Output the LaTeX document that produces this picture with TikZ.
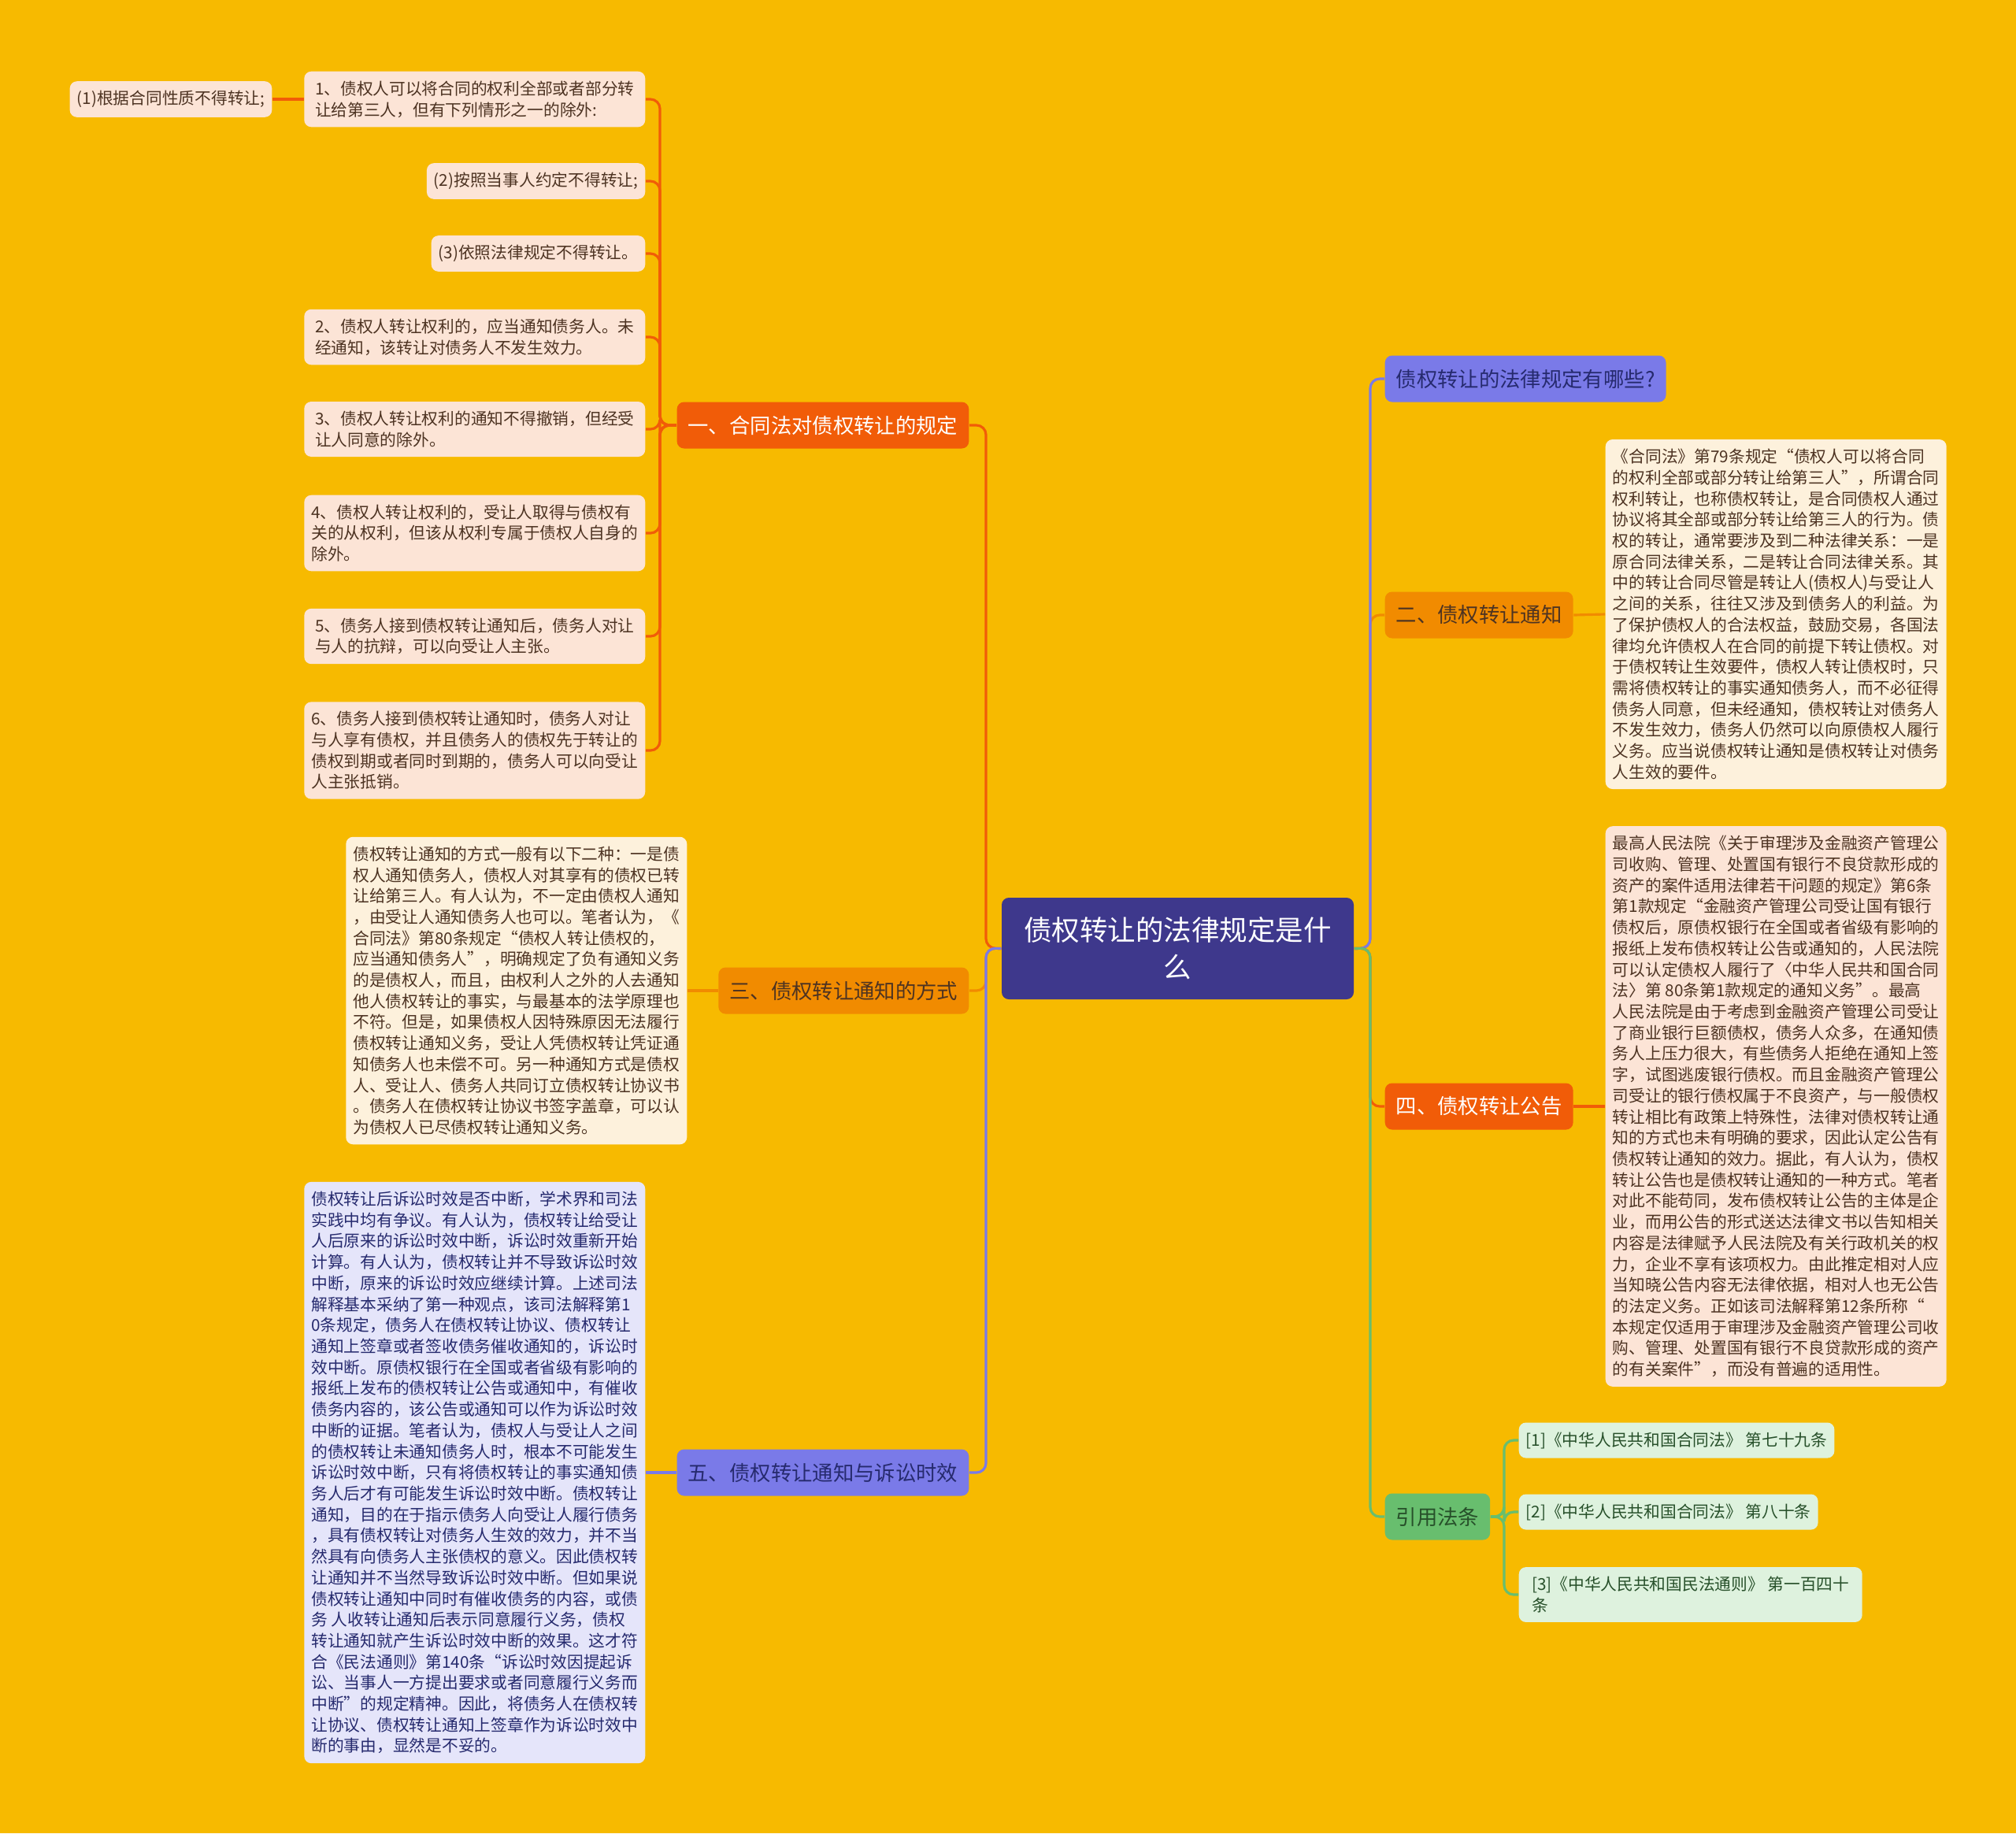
\documentclass[tikz,border=0pt]{standalone}
\usepackage{fontspec}
\setmainfont{Noto Sans CJK SC}
\definecolor{bgyellow}{RGB}{247,186,0}
\definecolor{navy}{RGB}{62,56,140}
\definecolor{redorange}{RGB}{241,92,8}
\definecolor{orange2}{RGB}{241,139,0}
\definecolor{lilac}{RGB}{122,122,232}
\definecolor{green2}{RGB}{104,190,110}
\definecolor{peach}{RGB}{252,228,214}
\definecolor{cream}{RGB}{253,241,220}
\definecolor{lavender}{RGB}{229,229,250}
\definecolor{mint}{RGB}{222,242,222}
\definecolor{browntx}{RGB}{77,51,34}
\definecolor{navytx}{RGB}{38,42,110}
\definecolor{greentx}{RGB}{39,80,42}
\begin{document}
\begin{tikzpicture}[
  box/.style={rounded corners=0.09cm, inner ysep=0.12cm},
  leaf/.style={box, inner xsep=0.09cm, align=left, font=\fontsize{5.9}{7.6}\selectfont},
  note/.style={leaf, minimum width=4.33cm},
  branch/.style={box, inner xsep=0.14cm, minimum height=0.59cm, font=\fontsize{7.5}{9}\selectfont},
  redbox/.style={fill=peach, text=browntx},
  orbox/.style={fill=cream, text=browntx},
  pubox/.style={fill=lavender, text=navytx},
  grbox/.style={fill=mint, text=greentx},
  link/.style={line width=0.9pt, rounded corners=0.12cm},
]
\fill[bgyellow] (0,0) rectangle (25.60,-23.28);

% centre
\node[box, fill=navy, text=white, minimum width=4.47cm, minimum height=1.29cm, align=center,
  font=\fontsize{10.1}{13.4}\selectfont] (ctr) at (14.955,-12.045) {债权转让的法律规定是什\\么};

% left branches
\node[branch, fill=redorange, text=white, anchor=east] (b1) at (12.31,-5.40) {一、合同法对债权转让的规定};
\node[branch, fill=orange2, text=browntx, anchor=east] (b3) at (12.31,-12.58) {三、债权转让通知的方式};
\node[branch, fill=lilac, text=navytx, anchor=east] (b5) at (12.31,-18.70) {五、债权转让通知与诉讼时效};

% right branches
\node[branch, fill=lilac, text=navytx, anchor=west] (r0) at (17.58,-4.81) {债权转让的法律规定有哪些?};
\node[branch, fill=orange2, text=browntx, anchor=west] (r2) at (17.58,-7.81) {二、债权转让通知};
\node[branch, fill=redorange, text=white, anchor=west] (r4) at (17.58,-14.05) {四、债权转让公告};
\node[branch, fill=green2, text=greentx, anchor=west] (r6) at (17.58,-19.26) {引用法条};

% leaves of b1
\node[note, redbox, anchor=east] (l1a) at (8.20,-1.26) {1、债权人可以将合同的权利全部或者部分转\\让给第三人，但有下列情形之一的除外:};
\node[leaf, redbox, anchor=east] (l1b) at (3.46,-1.26) {(1)根据合同性质不得转让;};
\node[leaf, redbox, anchor=east] (l1c) at (8.20,-2.30) {(2)按照当事人约定不得转让;};
\node[leaf, redbox, anchor=east] (l1d) at (8.20,-3.22) {(3)依照法律规定不得转让。};
\node[note, redbox, anchor=east] (l2) at (8.20,-4.28) {2、债权人转让权利的，应当通知债务人。未\\经通知，该转让对债务人不发生效力。};
\node[note, redbox, anchor=east] (l3) at (8.20,-5.45) {3、债权人转让权利的通知不得撤销，但经受\\让人同意的除外。};
\node[note, redbox, anchor=east] (l4) at (8.20,-6.77) {4、债权人转让权利的，受让人取得与债权有\\关的从权利，但该从权利专属于债权人自身的\\除外。};
\node[note, redbox, anchor=east] (l5) at (8.20,-8.08) {5、债务人接到债权转让通知后，债务人对让\\与人的抗辩，可以向受让人主张。};
\node[note, redbox, anchor=east] (l6) at (8.20,-9.53) {6、债务人接到债权转让通知时，债务人对让\\与人享有债权，并且债务人的债权先于转让的\\债权到期或者同时到期的，债务人可以向受让\\人主张抵销。};

% text of b3
\node[note, orbox, anchor=east] (t3) at (8.73,-12.58) {债权转让通知的方式一般有以下二种：一是债\\
权人通知债务人，债权人对其享有的债权已转\\
让给第三人。有人认为，不一定由债权人通知\\
，由受让人通知债务人也可以。笔者认为，《\\
合同法》第80条规定“债权人转让债权的，\\
应当通知债务人”，明确规定了负有通知义务\\
的是债权人，而且，由权利人之外的人去通知\\
他人债权转让的事实，与最基本的法学原理也\\
不符。但是，如果债权人因特殊原因无法履行\\
债权转让通知义务，受让人凭债权转让凭证通\\
知债务人也未偿不可。另一种通知方式是债权\\
人、受让人、债务人共同订立债权转让协议书\\
。债务人在债权转让协议书签字盖章，可以认\\
为债权人已尽债权转让通知义务。};

% text of b5
\node[note, pubox, anchor=east] (t5) at (8.20,-18.70) {债权转让后诉讼时效是否中断，学术界和司法\\
实践中均有争议。有人认为，债权转让给受让\\
人后原来的诉讼时效中断，诉讼时效重新开始\\
计算。有人认为，债权转让并不导致诉讼时效\\
中断，原来的诉讼时效应继续计算。上述司法\\
解释基本采纳了第一种观点，该司法解释第1\\
0条规定，债务人在债权转让协议、债权转让\\
通知上签章或者签收债务催收通知的，诉讼时\\
效中断。原债权银行在全国或者省级有影响的\\
报纸上发布的债权转让公告或通知中，有催收\\
债务内容的，该公告或通知可以作为诉讼时效\\
中断的证据。笔者认为，债权人与受让人之间\\
的债权转让未通知债务人时，根本不可能发生\\
诉讼时效中断，只有将债权转让的事实通知债\\
务人后才有可能发生诉讼时效中断。债权转让\\
通知，目的在于指示债务人向受让人履行债务\\
，具有债权转让对债务人生效的效力，并不当\\
然具有向债务人主张债权的意义。因此债权转\\
让通知并不当然导致诉讼时效中断。但如果说\\
债权转让通知中同时有催收债务的内容，或债\\
务 人收转让通知后表示同意履行义务，债权\\
转让通知就产生诉讼时效中断的效果。这才符\\
合《民法通则》第140条“诉讼时效因提起诉\\
讼、当事人一方提出要求或者同意履行义务而\\
中断”的规定精神。因此，将债务人在债权转\\
让协议、债权转让通知上签章作为诉讼时效中\\
断的事由，显然是不妥的。};

% text of r2
\node[note, orbox, anchor=west] (t2) at (20.38,-7.80) {《合同法》第79条规定“债权人可以将合同\\
的权利全部或部分转让给第三人”，所谓合同\\
权利转让，也称债权转让，是合同债权人通过\\
协议将其全部或部分转让给第三人的行为。债\\
权的转让，通常要涉及到二种法律关系：一是\\
原合同法律关系，二是转让合同法律关系。其\\
中的转让合同尽管是转让人(债权人)与受让人\\
之间的关系，往往又涉及到债务人的利益。为\\
了保护债权人的合法权益，鼓励交易，各国法\\
律均允许债权人在合同的前提下转让债权。对\\
于债权转让生效要件，债权人转让债权时，只\\
需将债权转让的事实通知债务人，而不必征得\\
债务人同意，但未经通知，债权转让对债务人\\
不发生效力，债务人仍然可以向原债权人履行\\
义务。应当说债权转让通知是债权转让对债务\\
人生效的要件。};

% text of r4
\node[note, redbox, anchor=west] (t4) at (20.38,-14.05) {最高人民法院《关于审理涉及金融资产管理公\\
司收购、管理、处置国有银行不良贷款形成的\\
资产的案件适用法律若干问题的规定》第6条\\
第1款规定“金融资产管理公司受让国有银行\\
债权后，原债权银行在全国或者省级有影响的\\
报纸上发布债权转让公告或通知的，人民法院\\
可以认定债权人履行了〈中华人民共和国合同\\
法〉第 80条第1款规定的通知义务”。最高\\
人民法院是由于考虑到金融资产管理公司受让\\
了商业银行巨额债权，债务人众多，在通知债\\
务人上压力很大，有些债务人拒绝在通知上签\\
字，试图逃废银行债权。而且金融资产管理公\\
司受让的银行债权属于不良资产，与一般债权\\
转让相比有政策上特殊性，法律对债权转让通\\
知的方式也未有明确的要求，因此认定公告有\\
债权转让通知的效力。据此，有人认为，债权\\
转让公告也是债权转让通知的一种方式。笔者\\
对此不能苟同，发布债权转让公告的主体是企\\
业，而用公告的形式送达法律文书以告知相关\\
内容是法律赋予人民法院及有关行政机关的权\\
力，企业不享有该项权力。由此推定相对人应\\
当知晓公告内容无法律依据，相对人也无公告\\
的法定义务。正如该司法解释第12条所称“\\
本规定仅适用于审理涉及金融资产管理公司收\\
购、管理、处置国有银行不良贷款形成的资产\\
的有关案件”，而没有普遍的适用性。};

% references of r6
\node[leaf, grbox, anchor=west] (f1) at (19.28,-18.29) {[1]《中华人民共和国合同法》 第七十九条};
\node[leaf, grbox, anchor=west] (f2) at (19.28,-19.20) {[2]《中华人民共和国合同法》 第八十条};
\node[leaf, grbox, anchor=west, minimum width=4.36cm] (f3) at (19.28,-20.25) {[3]《中华人民共和国民法通则》 第一百四十\\条};

% trunk
\coordinate (jl) at (12.52,-12.04);
\coordinate (jr) at (17.40,-12.04);
\draw[link, redorange] (ctr.west) -- (jl) |- (b1.east);
\draw[link, orange2] (ctr.west) -- (jl) |- (b3.east);
\draw[link, lilac] (ctr.west) -- (jl) |- (b5.east);
\draw[link, orange2] (ctr.east) -- (jr) |- (r2.west);
\draw[link, lilac] (ctr.east) -- (jr) |- (r0.west);
\draw[link, redorange] (ctr.east) -- (jr) |- (r4.west);
\draw[link, green2] (ctr.east) -- (jr) |- (r6.west);

% leaf links
\coordinate (j1) at (8.38,-5.40);
\foreach \n in {l1a,l1c,l1d,l2,l3,l4,l5,l6}
  \draw[link, redorange] (b1.west) -- (j1) |- (\n.east);
\draw[link, redorange] (l1b.east) -- (l1a.west);
\draw[link, orange2] (b3.west) -- (t3.east);
\draw[link, lilac] (b5.west) -- (t5.east);
\draw[link, orange2] (r2.east) -- (t2.west);
\draw[link, redorange] (r4.east) -- (t4.west);
\coordinate (j6) at (19.10,-19.26);
\foreach \n in {f1,f2,f3}
  \draw[link, green2] (r6.east) -- (j6) |- (\n.west);
\end{tikzpicture}
\end{document}
